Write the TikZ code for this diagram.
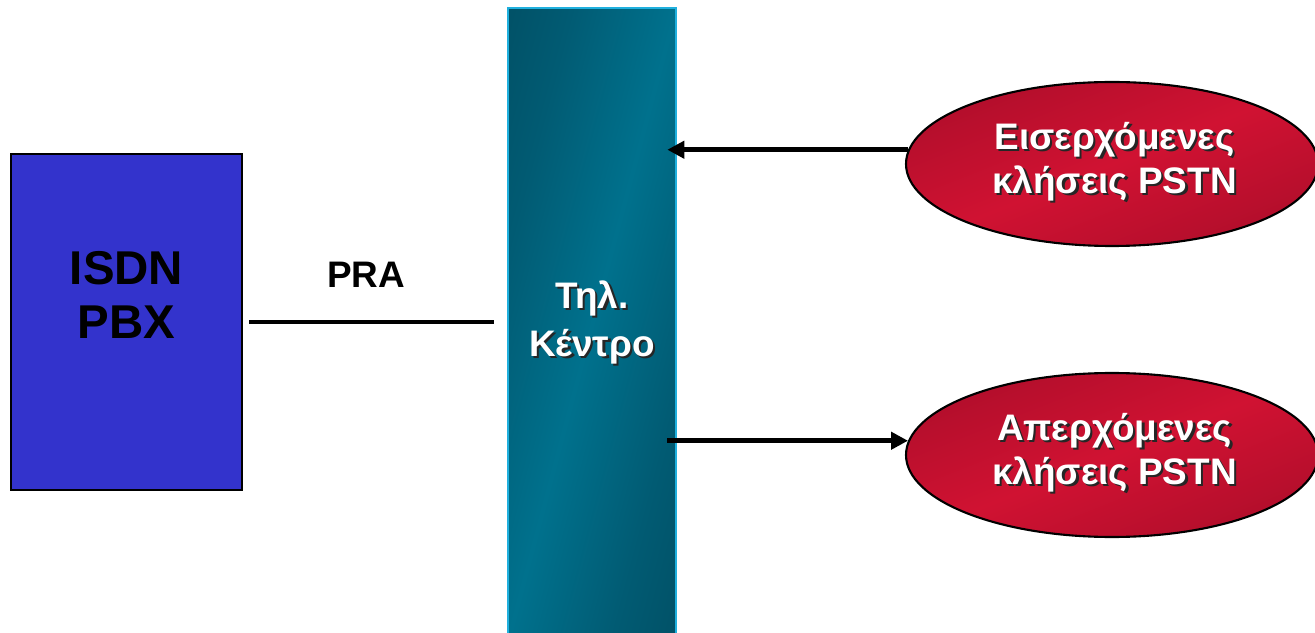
\documentclass[tikz,border=0pt]{standalone}
\usepackage{fontspec}
\setmainfont{Liberation Sans}
\usepackage{tikz}
\usetikzlibrary{shapes.geometric,arrows.meta}
\definecolor{pbxblue}{HTML}{3333CC}
\definecolor{swdark}{HTML}{02475A}
\definecolor{swmid}{HTML}{015B73}
\definecolor{swlight}{HTML}{00718D}
\definecolor{swedge}{HTML}{1FB0DE}
\definecolor{calldark}{HTML}{960A26}
\definecolor{callmid}{HTML}{BA0F2D}
\definecolor{calllight}{HTML}{D01232}
\pgfdeclareverticalshading{swgrad}{100bp}{color(0bp)=(swdark); color(28bp)=(swmid); color(50bp)=(swlight); color(72bp)=(swmid); color(100bp)=(swdark)}
\pgfdeclareverticalshading{callgrad}{100bp}{color(0bp)=(calldark); color(30bp)=(callmid); color(50bp)=(calllight); color(70bp)=(callmid); color(100bp)=(calldark)}
\newcommand{\shtxt}[1]{\makebox[0pt][l]{\hspace{1.3pt}\raisebox{-1.3pt}{\color{black!85}\begin{tabular}{@{}c@{}}#1\end{tabular}}}\begin{tabular}{@{}c@{}}#1\end{tabular}}
\tikzstyle{edge} = [draw,line width=2.6pt]
\tikzstyle{call} = [edge,-{Triangle[length=0.34cm,width=0.34cm]}]
\tikzstyle{bubble} = [ellipse,draw=black,line width=1.2pt,minimum width=8.24cm,minimum height=3.28cm,text=white,font=\bfseries\fontsize{21}{25}\selectfont]
\tikzstyle{callshade} = [shading=callgrad,shading angle=45]
\tikzstyle{swshade} = [shading=swgrad,shading angle=45]

\begin{document}
\begin{tikzpicture}[pbxbox/.style={draw=black,line width=1.2pt,fill=pbxblue,minimum width=4.62cm,minimum height=6.72cm},
  switchbar/.style={draw=swedge,line width=1.5pt,minimum width=3.36cm,minimum height=12.64cm,text=white,font=\bfseries\fontsize{21}{27}\selectfont}]

    \useasboundingbox (0,0) rectangle (26.3,12.64);

    % gradient fills, squeezed so the diagonal runs corner to corner
    \begin{scope}[transform canvas={shift={(11.84,6.16)},xscale=0.2658}]
      \shade[swshade] (-6.32,-6.32) rectangle (6.32,6.32);
    \end{scope}
    \begin{scope}[transform canvas={shift={(22.24,9.36)},xscale=2.512}]
      \shade[callshade] (0,0) circle (1.64);
    \end{scope}
    \begin{scope}[transform canvas={shift={(22.24,3.54)},xscale=2.512}]
      \shade[callshade] (0,0) circle (1.64);
    \end{scope}

    \node[pbxbox] (pbx) at (2.53,6.2) {};
    \node[align=center,font=\bfseries\fontsize{27}{30.7}\selectfont] (pbxname) at (2.53,6.74) {ISDN\\PBX};

    \node[switchbar] (col) at (11.84,6.16) {\shtxt{Τηλ.\\Κέντρο}};

    \node[bubble] (inc) at (22.24,9.36) {\hspace{0.1cm}\shtxt{Εισερχόμενες\\κλήσεις PSTN}};
    \node[bubble] (out) at (22.24,3.54) {\hspace{0.1cm}\shtxt{Απερχόμενες\\κλήσεις PSTN}};

    \node[font=\bfseries\fontsize{21}{25}\selectfont] (pra) at (7.32,7.14) {PRA};

    \draw[edge, shorten <=0.12cm, shorten >=0.26cm] (pbx.east) -- (pbx.east -| col.west);

    \draw[call, shorten >=-0.2cm] (inc.176.7) -- (col.east |- inc.176.7);
    \draw[call, shorten <=-0.2cm] (col.east |- out.176.4) -- (out.176.4);

\end{tikzpicture}
\end{document}
